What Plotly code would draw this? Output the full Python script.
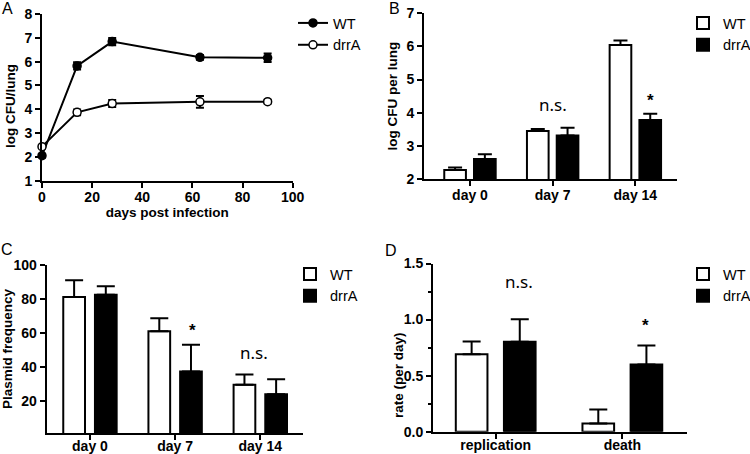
import plotly.graph_objects as go

# ---------------- data ----------------
# Panel A
days = [0, 14, 28, 63, 90]
a_wt = [2.05, 5.82, 6.84, 6.18, 6.16]
a_wt_err = [0.08, 0.15, 0.15, 0.10, 0.18]
a_drra = [2.43, 3.87, 4.24, 4.31, 4.32]
a_drra_err = [0.08, 0.12, 0.15, 0.25, 0.08]

# Panel B
b_cats = ["day 0", "day 7", "day 14"]
b_wt = [2.27, 3.45, 6.04]
b_wt_err = [0.08, 0.06, 0.14]
b_drra = [2.60, 3.31, 3.78]
b_drra_err = [0.15, 0.24, 0.19]

# Panel C
c_cats = ["day 0", "day 7", "day 14"]
c_wt = [81.1, 61.0, 29.4]
c_wt_err = [9.9, 7.6, 6.0]
c_drra = [82.4, 37.2, 23.9]
c_drra_err = [5.1, 15.8, 8.8]

# Panel D
d_cats = ["replication", "death"]
d_wt = [0.69, 0.074]
d_wt_err = [0.115, 0.125]
d_drra = [0.803, 0.599]
d_drra_err = [0.20, 0.17]

series_names = ["WT", "drrA"]

# ---------------- style ----------------
F = "Arial, Liberation Sans, sans-serif"
FN = "Noto Sans, Open Sans, sans-serif"
W, H = 750, 454


def px_x(p):
    return p / W


def px_y(p):
    return 1 - p / H


TITLE_FONT = dict(family=F, size=13.5, color="black", weight="bold")


def axis(**kw):
    d = dict(showline=True, linecolor="black", linewidth=2, ticks="outside",
             ticklen=5, tickwidth=2, tickcolor="black", showgrid=False,
             zeroline=False, mirror=False,
             tickfont=dict(family=F, size=14, color="black", weight="bold"),
             title_font=TITLE_FONT)
    d.update(kw)
    return d


fig = go.Figure()

# Panel A: line plot
fig.add_trace(go.Scatter(
    x=days, y=a_wt, name=series_names[0], mode="lines+markers",
    line=dict(color="black", width=2),
    marker=dict(symbol="circle", size=8, color="black", line=dict(color="black", width=1.5)),
    error_y=dict(type="data", array=a_wt_err, color="black", thickness=2, width=4),
    cliponaxis=False, xaxis="x", yaxis="y", legend="legend"))
fig.add_trace(go.Scatter(
    x=days, y=a_drra, name=series_names[1], mode="lines+markers",
    line=dict(color="black", width=2),
    marker=dict(symbol="circle", size=8, color="white", line=dict(color="black", width=1.5)),
    error_y=dict(type="data", array=a_drra_err, color="black", thickness=2, width=4),
    cliponaxis=False, xaxis="x", yaxis="y", legend="legend"))


def bar_pair(cats, wt, wt_err, dr, dr_err, xa, ya, leg, width, center, capw):
    fig.add_trace(go.Bar(
        x=cats, y=wt, name=series_names[0], width=width, offset=-center - width / 2,
        marker=dict(color="white", line=dict(color="black", width=2)),
        error_y=dict(type="data", array=wt_err, arrayminus=[0] * len(wt), symmetric=False,
                     color="black", thickness=2, width=capw),
        xaxis=xa, yaxis=ya, legend=leg))
    fig.add_trace(go.Bar(
        x=cats, y=dr, name=series_names[1], width=width, offset=center - width / 2,
        marker=dict(color="black", line=dict(color="black", width=2)),
        error_y=dict(type="data", array=dr_err, arrayminus=[0] * len(dr), symmetric=False,
                     color="black", thickness=2, width=capw),
        xaxis=xa, yaxis=ya, legend=leg))


bar_pair(b_cats, b_wt, b_wt_err, b_drra, b_drra_err, "x2", "y2", "legend2", 0.262, 0.18, 7)
bar_pair(c_cats, c_wt, c_wt_err, c_drra, c_drra_err, "x3", "y3", "legend3", 0.255, 0.186, 9)
bar_pair(d_cats, d_wt, d_wt_err, d_drra, d_drra_err, "x4", "y4", "legend4", 0.25, 0.19, 9)

leg_font = dict(family=F, size=14.5, color="black")


def legend(xp, yp):
    return dict(x=px_x(xp), y=px_y(yp), xanchor="left", yanchor="top",
                font=leg_font, bgcolor="rgba(0,0,0,0)", borderwidth=0,
                tracegroupgap=0, itemclick=False)


fig.update_layout(
    width=W, height=H, margin=dict(l=0, r=0, t=0, b=0, autoexpand=False),
    paper_bgcolor="white", plot_bgcolor="white", barmode="group",
    # Panel A
    xaxis=axis(domain=[px_x(42), px_x(292.7)], range=[0, 100], dtick=20, anchor="y",
               ticklabelstandoff=-3,
               title=dict(text="days post infection", standoff=4)),
    yaxis=axis(domain=[px_y(180.7), px_y(14)], range=[1, 8], dtick=1, anchor="x"),
    # Panel B
    xaxis2=axis(domain=[px_x(424), px_x(676.7)], range=[-0.556, 2.5], type="category",
                anchor="y2", ticklabelstandoff=-3),
    yaxis2=axis(domain=[px_y(179), px_y(13.3)], range=[2, 7], dtick=1, anchor="x2",
                title=dict(text="log CFU per lung", standoff=6)),
    # Panel C
    xaxis3=axis(domain=[px_x(46.7), px_x(303.3)], range=[-0.508, 2.505], type="category",
                anchor="y3", ticklabelstandoff=-6),
    yaxis3=axis(domain=[px_y(433), px_y(265)], range=[1, 100], tickvals=[20, 40, 60, 80, 100],
                anchor="x3", title=dict(text="Plasmid frequency", standoff=5)),
    # Panel D
    xaxis4=axis(domain=[px_x(433), px_x(686.7)], range=[-0.495, 1.508], type="category",
                anchor="y4", ticklabelstandoff=-6),
    yaxis4=axis(domain=[px_y(431.7), px_y(263.5)], range=[0, 1.5], tickvals=[0, 0.5, 1.0, 1.5],
                tickformat=".1f", anchor="x4",
                minor=dict(dtick=0.25, ticks="outside", ticklen=3, tickwidth=1.5, tickcolor="black")),
    legend=legend(293, 7),
    legend2=legend(683, 7),
    legend3=legend(290, 258),
    legend4=legend(683, 258),
    showlegend=True,
)

ann = []
# panel letters
for letter, xp, yp in [("A", 7, 8), ("B", 394, 8), ("C", 7, 249), ("D", 391, 251)]:
    ann.append(dict(text=letter, x=px_x(xp), y=px_y(yp), xref="paper", yref="paper",
                    showarrow=False, xanchor="center", yanchor="middle",
                    font=dict(family=F, size=16, color="black")))

# y-axis titles placed as in the original (offset from the axis centre)
for text, xp, yp in [("log CFU/lung", 10, 106), ("rate (per day)", 398, 375)]:
    ann.append(dict(text=text, x=px_x(xp), y=px_y(yp), xref="paper", yref="paper",
                    showarrow=False, xanchor="center", yanchor="middle", textangle=-90,
                    font=TITLE_FONT))


def mark(text, x, y, xr, yr, xshift, bold=False, size=17, fam=FN, yshift=0):
    ann.append(dict(text=text, x=x, y=y, xref=xr, yref=yr, xshift=xshift, yshift=yshift,
                    showarrow=False, xanchor="center", yanchor="middle",
                    font=dict(family=fam, size=size, color="black",
                              weight="bold" if bold else "normal")))


# significance marks
mark("n.s.", "day 7", 4.17, "x2", "y2", 0, yshift=3)
mark("*", "day 14", 4.47, "x2", "y2", 15, bold=True, size=17, fam=F, yshift=-3)
mark("*", "day 7", 63.4, "x3", "y3", 17, bold=True, size=17, fam=F, yshift=-3)
mark("n.s.", "day 14", 46.9, "x3", "y3", -6, yshift=3)
mark("n.s.", "replication", 1.31, "x4", "y4", 23, yshift=3)
mark("*", "death", 0.97, "x4", "y4", 23, bold=True, size=17, fam=F, yshift=-3)

fig.update_layout(annotations=ann)

fig.write_html(
    "out.html",
    config={"displayModeBar": False},
    post_script="document.body.style.margin='0px';document.body.style.overflow='hidden';",
)
